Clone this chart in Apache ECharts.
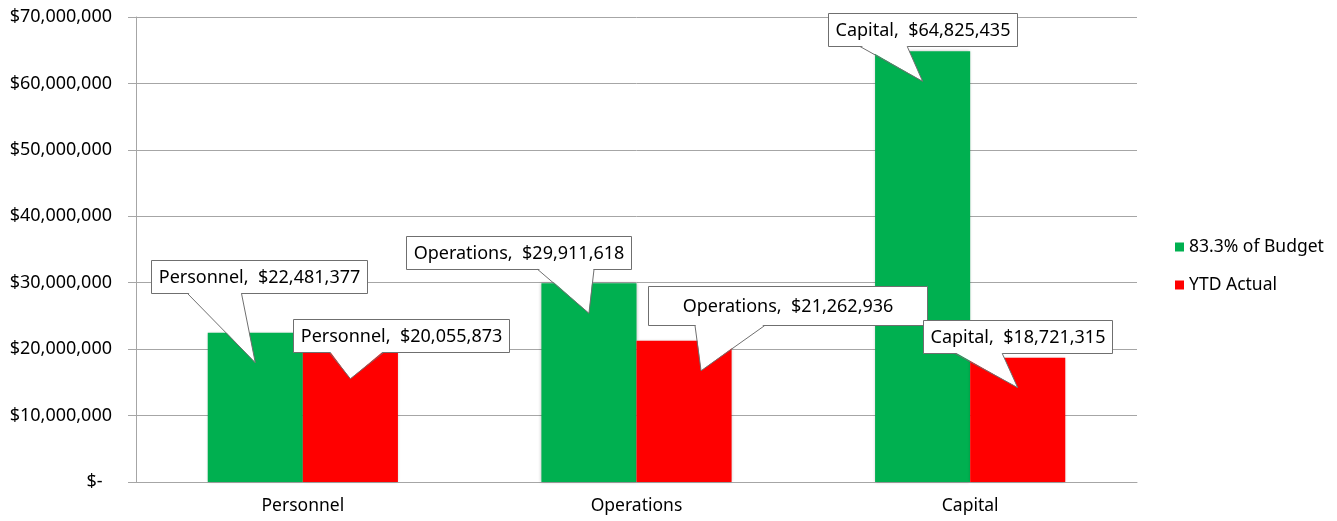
<!DOCTYPE html>
<html>
<head>
<meta charset="utf-8">
<title>Budget vs YTD Actual</title>
<script src="https://cdn.jsdelivr.net/npm/echarts@6/dist/echarts.min.js"></script>
<style>
  html, body { margin: 0; padding: 0; background: #fff; }
  #chart { width: 1337px; height: 521px; }
</style>
</head>
<body>
<div id="chart"></div>
<script>
var categories = ['Personnel', 'Operations', 'Capital']
var budget = [22481377, 29911618, 64825435]
var actual = [20055873, 21262936, 18721315]
var seriesNames = ['83.3% of Budget', 'YTD Actual']
var seriesColors = ['#00B050', '#FF0000']

var GRID_LINE = '#a6a6a6'
var CALLOUT_LINE = '#6f6f6f'
var FONT = '18px "Noto Sans"'
var CAT_GAP = 0.43
var TIP_DROP = 30 // callout tip sits this far below the bar top

// callout box placement per series / category: [box centre dx from tip, box bottom above tip, tip dx]
var calloutPos = [
  [[4, 70, 0], [-70, 44, 0], [0, 35, 0]],
  [[51, 27, 0], [86, 46, 17], [0, 35, 0]]
]
// boxes that were resized by hand in the original
var calloutSize = [
  [null, null, null],
  [null, [279, 39], null]
]

function money(v) {
  return '$' + echarts.format.addCommas(v)
}

var measureCtx = document.createElement('canvas').getContext('2d')
measureCtx.font = FONT
function textWidth(t) {
  return measureCtx.measureText(t).width
}

function renderCallout(params, api) {
  var c = api.value(0)
  var v = api.value(1)
  var s = api.value(2)
  var pos = calloutPos[s][c]
  var band = api.size([1, 0])[0]
  var barW = band * (1 - CAT_GAP) / 2
  var top = api.coord([c, v])
  var tipX = top[0] + (s === 0 ? -barW / 2 : barW / 2) + pos[2]
  var tipY = top[1] + TIP_DROP
  var text = categories[c] + ',  ' + money(v)
  var w = Math.round(textWidth(text) + 14)
  var h = 33
  if (calloutSize[s][c]) {
    w = calloutSize[s][c][0]
    h = calloutSize[s][c][1]
  }
  var cx = tipX + pos[0]
  var x0 = Math.round(cx - w / 2) + 0.5
  var y1 = Math.round(tipY - pos[1]) + 0.5
  var y0 = y1 - h
  // office style wedge: base on the left or right half of the box bottom
  var right = tipX > cx + 0.5
  var b0 = x0 + w * (right ? 7 / 12 : 1 / 6)
  var b1 = x0 + w * (right ? 5 / 6 : 5 / 12)
  return {
    type: 'group',
    children: [
      {
        type: 'rect',
        shape: { x: x0, y: y0, width: w, height: h },
        style: { fill: '#fff', stroke: CALLOUT_LINE, lineWidth: 1 }
      },
      {
        type: 'polygon',
        shape: { points: [[b0 + 0.5, y1 - 1], [b1 - 0.5, y1 - 1], [tipX, tipY]] },
        style: { fill: '#fff' }
      },
      {
        type: 'polyline',
        shape: { points: [[b0, y1], [tipX, tipY], [b1, y1]] },
        style: { fill: null, stroke: CALLOUT_LINE, lineWidth: 1 }
      },
      {
        type: 'text',
        x: x0 + w / 2,
        y: y0 + h / 2 + 1,
        style: {
          text: text,
          font: FONT,
          fill: '#000',
          align: 'center',
          verticalAlign: 'middle'
        }
      }
    ]
  }
}

var calloutData = []
budget.forEach(function(v, i) { calloutData.push([i, v, 0]) })
actual.forEach(function(v, i) { calloutData.push([i, v, 1]) })

var chart = echarts.init(document.getElementById('chart'))
var option = {
  animation: false,
  textStyle: { fontFamily: 'Noto Sans' },
  grid: { left: 136, right: 200, top: 17, bottom: 39 },
  legend: {
    data: seriesNames,
    orient: 'vertical',
    left: 1170,
    top: 233,
    icon: 'rect',
    itemWidth: 9,
    itemHeight: 9,
    itemGap: 20,
    textStyle: { fontSize: 17.5, color: '#000' }
  },
  xAxis: {
    type: 'category',
    data: categories,
    axisLine: { lineStyle: { color: GRID_LINE } },
    axisTick: { length: 8, lineStyle: { color: GRID_LINE } },
    axisLabel: { fontSize: 17.5, color: '#000', margin: 15 }
  },
  yAxis: {
    type: 'value',
    min: 0,
    max: 70000000,
    interval: 10000000,
    axisLine: { show: true, lineStyle: { color: GRID_LINE } },
    axisTick: { show: true, length: 8, lineStyle: { color: GRID_LINE } },
    splitLine: { lineStyle: { color: GRID_LINE } },
    axisLabel: {
      fontSize: 18,
      color: '#000',
      margin: 24,
      formatter: function(v) {
        return v === 0 ? '$-  ' : money(v)
      }
    }
  },
  series: [
    {
      name: seriesNames[0],
      type: 'bar',
      data: budget,
      barGap: '0%',
      barCategoryGap: (CAT_GAP * 100) + '%',
      itemStyle: { color: seriesColors[0], shadowBlur: 3, shadowColor: 'rgba(0,0,0,0.25)' }
    },
    {
      name: seriesNames[1],
      type: 'bar',
      data: actual,
      barGap: '0%',
      barCategoryGap: (CAT_GAP * 100) + '%',
      itemStyle: { color: seriesColors[1], shadowBlur: 3, shadowColor: 'rgba(0,0,0,0.25)' }
    },
    {
      name: 'callouts',
      type: 'custom',
      data: calloutData,
      renderItem: renderCallout,
      clip: false,
      z: 5,
      silent: true
    }
  ]
}
chart.setOption(option)
</script>
</body>
</html>
